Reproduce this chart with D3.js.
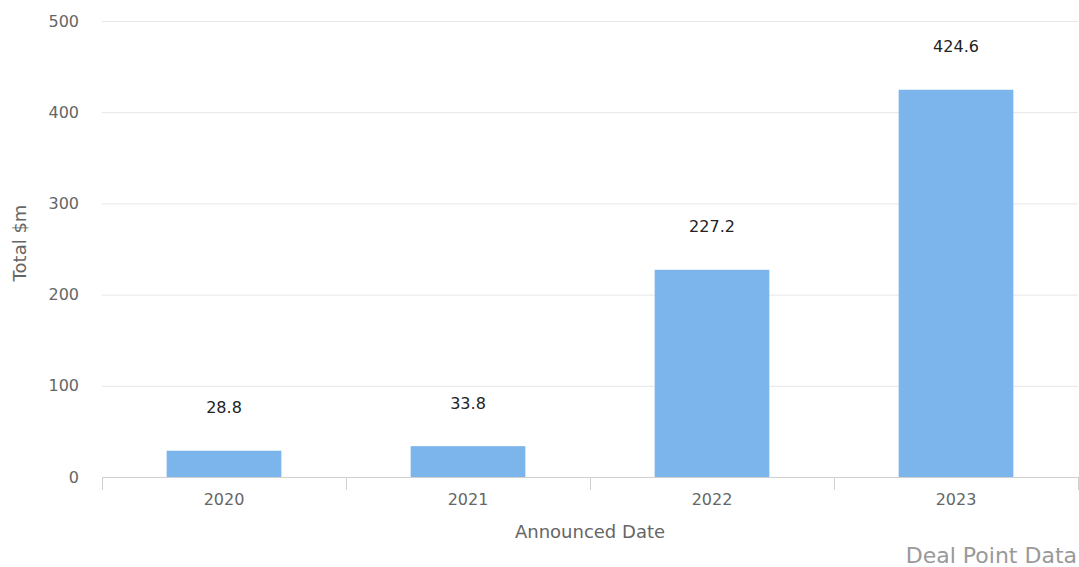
<!DOCTYPE html>
<html>
<head>
<meta charset="utf-8">
<script src="https://cdn.jsdelivr.net/npm/d3@7"></script>
<style>
  body { margin: 0; background: #fff; }
  svg { font-family: "DejaVu Sans", sans-serif; }
</style>
</head>
<body>
<svg id="chart" width="1079" height="567"></svg>
<script>
// data
var years = ["2020", "2021", "2022", "2023"];
var totals = [28.8, 33.8, 227.2, 424.6];
var yTicks = [0, 100, 200, 300, 400, 500];

var svg = d3.select("#chart");
var margin = { left: 102, right: 1, top: 21, bottom: 90 };
var W = 1079, H = 567;

var x = d3.scaleBand()
  .domain(years)
  .range([margin.left, W - margin.right])
  .paddingInner(0.53)
  .paddingOuter(0.265);

var y = d3.scaleLinear()
  .domain([0, 500])
  .range([477, margin.top]);

// gridlines
svg.append("g")
  .selectAll("line")
  .data(yTicks.slice(1))
  .enter()
  .append("line")
  .attr("x1", margin.left)
  .attr("x2", W - margin.right)
  .attr("y1", function (d) { return y(d) + 0.5; })
  .attr("y2", function (d) { return y(d) + 0.5; })
  .attr("stroke", "#e6e6e6");

// y tick labels
svg.append("g")
  .selectAll("text")
  .data(yTicks)
  .enter()
  .append("text")
  .attr("x", 79)
  .attr("y", function (d) { return y(d); })
  .attr("dy", "0.35em")
  .attr("text-anchor", "end")
  .style("font-size", "16px")
  .style("fill", "#666")
  .text(function (d) { return d; });

// bars
svg.append("g")
  .selectAll("rect")
  .data(totals)
  .enter()
  .append("rect")
  .attr("x", function (d, i) { return x(years[i]); })
  .attr("width", x.bandwidth())
  .attr("y", function (d) { return y(d); })
  .attr("height", function (d) { return y(0) - y(d); })
  .attr("fill", "#7cb5ec");

// value labels
svg.append("g")
  .selectAll("text")
  .data(totals)
  .enter()
  .append("text")
  .attr("x", function (d, i) { return x(years[i]) + x.bandwidth() / 2; })
  .attr("y", function (d) { return y(d) - 43; })
  .attr("dy", "0.35em")
  .attr("text-anchor", "middle")
  .style("font-size", "16px")
  .style("fill", "#222")
  .text(function (d) { return d.toFixed(1); });

// x axis
var ticksX = d3.range(years.length + 1).map(function (i) {
  return margin.left + i * (W - margin.right - margin.left) / years.length;
});
svg.append("line")
  .attr("x1", margin.left)
  .attr("x2", W - margin.right)
  .attr("y1", 477.5)
  .attr("y2", 477.5)
  .attr("stroke", "#d0d0d0");
svg.append("g")
  .selectAll("line")
  .data(ticksX)
  .enter()
  .append("line")
  .attr("x1", function (d) { return Math.round(d) + 0.5; })
  .attr("x2", function (d) { return Math.round(d) + 0.5; })
  .attr("y1", 477)
  .attr("y2", 490)
  .attr("stroke", "#d0d0d0");
svg.append("g")
  .selectAll("text")
  .data(years)
  .enter()
  .append("text")
  .attr("x", function (d) { return x(d) + x.bandwidth() / 2; })
  .attr("y", 499)
  .attr("dy", "0.35em")
  .attr("text-anchor", "middle")
  .style("font-size", "16px")
  .style("fill", "#666")
  .text(function (d) { return d; });

// axis titles
svg.append("text")
  .attr("x", (margin.left + W - margin.right) / 2)
  .attr("y", 532)
  .attr("dy", "0.35em")
  .attr("text-anchor", "middle")
  .style("font-size", "18px")
  .style("fill", "#666")
  .text("Announced Date");

svg.append("text")
  .attr("transform", "translate(20,243) rotate(-90)")
  .attr("dy", "0.35em")
  .attr("text-anchor", "middle")
  .style("font-size", "18px")
  .style("fill", "#666")
  .text("Total $m");

// credit
svg.append("text")
  .attr("x", 1077)
  .attr("y", 555)
  .attr("dy", "0.35em")
  .attr("text-anchor", "end")
  .style("font-size", "22px")
  .style("fill", "#999")
  .text("Deal Point Data");
</script>
</body>
</html>
